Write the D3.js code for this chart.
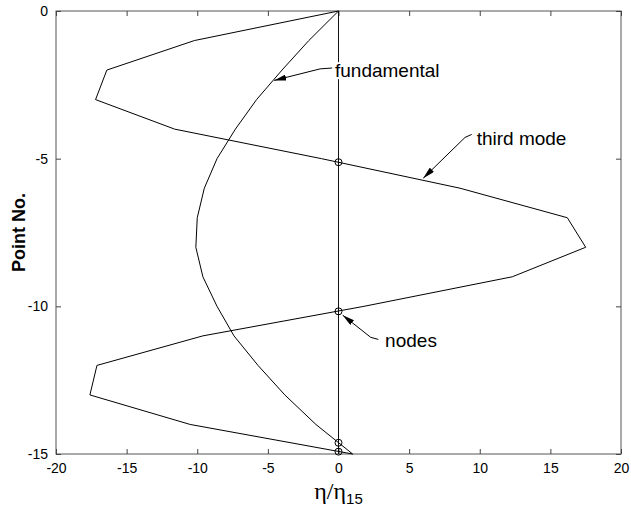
<!DOCTYPE html>
<html>
<head>
<meta charset="utf-8">
<script src="https://cdn.jsdelivr.net/npm/d3@7"></script>
<style>
  html, body { margin: 0; padding: 0; background: #fff; }
  svg { display: block; }
</style>
</head>
<body>
<svg id="chart" width="631" height="511"></svg>
<script>
// ---- data ----
const pointNo = [0, -1, -2, -3, -4, -5, -6, -7, -8, -9, -10, -11, -12, -13, -14, -15];
const fundamental = [0, -2.1, -4.0, -5.8, -7.3, -8.6, -9.5, -10.0, -10.1, -9.6, -8.6, -7.4, -5.7, -3.8, -1.6, 1.0];
const thirdMode = [0, -10.2, -16.4, -17.2, -11.6, -1.2, 8.6, 16.2, 17.5, 12.3, 1.8, -9.6, -17.1, -17.6, -10.5, 1.0];
const nodeY = [-5.12, -10.17, -14.62, -14.92];
const xTicks = [-20, -15, -10, -5, 0, 5, 10, 15, 20];
const yTicks = [0, -5, -10, -15];

// annotations: label, text anchor point, leader polyline (data units, last point = arrow tip)
const annoLabels = ["fundamental", "third mode", "nodes"];
const annoText = [[-0.25, -2.24], [9.78, -4.54], [3.3, -11.38]];
const annoLeader = [
  [[-0.45, -1.93], [-1.3, -1.96], [-4.55, -2.35]],
  [[9.43, -4.18], [8.96, -4.28], [6.0, -5.66]],
  [[2.82, -11.12], [2.28, -11.05], [0.3, -10.3]]
];

// ---- layout ----
const svg = d3.select("#chart");
const mLeft = 56, mRight = 621, mTop = 11, mBottom = 454;
const x = d3.scaleLinear().domain([-20, 20]).range([mLeft, mRight]);
const y = d3.scaleLinear().domain([-15, 0]).range([mBottom, mTop]);

const sans = "'Liberation Sans', Arial, Helvetica, sans-serif";
const serif = "'Liberation Serif', 'Times New Roman', serif";

// defs: arrowhead
svg.append("defs").append("marker")
  .attr("id", "arrow")
  .attr("viewBox", "0 0 12 6")
  .attr("refX", 12).attr("refY", 3)
  .attr("markerWidth", 12).attr("markerHeight", 6)
  .attr("markerUnits", "userSpaceOnUse")
  .attr("orient", "auto")
  .append("path").attr("d", "M0,0 L12,3 L0,6 Z").attr("fill", "#000");

// frame
svg.append("rect")
  .attr("x", mLeft).attr("y", mTop)
  .attr("width", mRight - mLeft).attr("height", mBottom - mTop)
  .attr("fill", "none").attr("stroke", "#555").attr("stroke-width", 1);

// axes with inward ticks
const fmt = d => d3.format("d")(d).replace("−", "-");
const xAxisB = d3.axisBottom(x).tickValues(xTicks).tickSize(-5).tickPadding(9).tickFormat(fmt);
const xAxisT = d3.axisTop(x).tickValues(xTicks).tickSize(-5).tickFormat("");
const yAxisL = d3.axisLeft(y).tickValues(yTicks).tickSize(-5).tickPadding(8).tickFormat(fmt);
const yAxisR = d3.axisRight(y).tickValues(yTicks).tickSize(-5).tickFormat("");

function style(g) {
  g.select(".domain").remove();
  g.selectAll(".tick line").attr("stroke", "#444");
  g.selectAll(".tick text").attr("fill", "#000")
    .style("font-family", sans).style("font-size", "14px");
}
svg.append("g").attr("transform", `translate(0,${mBottom})`).call(xAxisB).call(style);
svg.append("g").attr("transform", `translate(0,${mTop})`).call(xAxisT).call(style);
svg.append("g").attr("transform", `translate(${mLeft},0)`).call(yAxisL).call(style);
svg.append("g").attr("transform", `translate(${mRight},0)`).call(yAxisR).call(style);

// zero line
svg.append("line")
  .attr("x1", x(0)).attr("x2", x(0))
  .attr("y1", y(0)).attr("y2", y(-15))
  .attr("stroke", "#111").attr("stroke-width", 1);

// series
const line = d3.line().x(d => x(d[0])).y(d => y(d[1]));
[fundamental, thirdMode].forEach(s => {
  svg.append("path")
    .datum(s.map((v, i) => [v, pointNo[i]]))
    .attr("d", line)
    .attr("fill", "none").attr("stroke", "#000").attr("stroke-width", 1);
});

// node markers
svg.selectAll("circle.node").data(nodeY).enter().append("circle")
  .attr("class", "node")
  .attr("cx", x(0)).attr("cy", d => y(d)).attr("r", 3.5)
  .attr("fill", "none").attr("stroke", "#000").attr("stroke-width", 1);

// annotations
annoLabels.forEach((lab, i) => {
  const t = svg.append("text")
    .attr("x", x(annoText[i][0])).attr("y", y(annoText[i][1]))
    .style("font-family", sans).style("font-size", "19px")
    .attr("fill", "#000").text(lab);
  const bb = t.node().getBBox();
  svg.insert("rect", () => t.node())
    .attr("x", bb.x - 1).attr("y", bb.y + 2)
    .attr("width", bb.width + 2).attr("height", bb.height - 4)
    .attr("fill", "#fff");
  svg.append("path")
    .datum(annoLeader[i])
    .attr("d", line)
    .attr("fill", "none").attr("stroke", "#000").attr("stroke-width", 1)
    .attr("marker-end", "url(#arrow)");
});

// axis titles
const xt = svg.append("text")
  .attr("x", x(0)).attr("y", 499)
  .attr("text-anchor", "middle")
  .style("font-family", serif).style("font-size", "24px").attr("fill", "#000");
xt.append("tspan").text("η/η");
xt.append("tspan").attr("dy", 5).style("font-family", sans).style("font-size", "15px").text("15");

svg.append("text")
  .attr("transform", `translate(25,${y(-7.5)}) rotate(-90)`)
  .attr("text-anchor", "middle")
  .style("font-family", sans).style("font-size", "18px").style("font-weight", "bold")
  .attr("fill", "#000").text("Point No.");
</script>
</body>
</html>
